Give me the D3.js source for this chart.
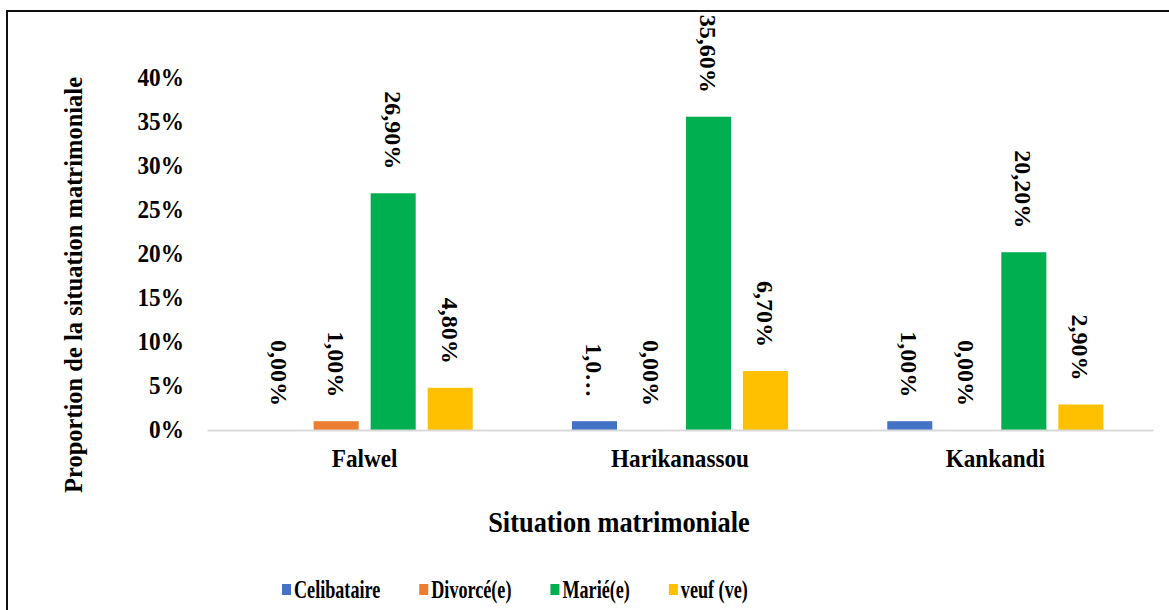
<!DOCTYPE html>
<html lang="fr">
<head>
<meta charset="UTF-8">
<title>Situation matrimoniale</title>
<style>
    body { margin: 0; padding: 0; background: #fff; }
    svg { display: block; }
</style>
</head>
<body>
<svg id="chart"></svg>
<script src="https://d3js.org/d3.v7.min.js"></script>
<script>
    // data
    var categories = ["Falwel", "Harikanassou", "Kankandi"];
    var seriesNames = ["Celibataire", "Divorcé(e)", "Marié(e)", "veuf (ve)"];
    var celibataire = [0.000, 0.010, 0.010];
    var divorce = [0.010, 0.000, 0.000];
    var marie = [0.269, 0.356, 0.202];
    var veuf = [0.048, 0.067, 0.029];
    // labels as printed (one is cut short in the original)
    var celibataireLabels = ["0,00%", "1,0…", "1,00%"];
    var divorceLabels = ["1,00%", "0,00%", "0,00%"];
    var marieLabels = ["26,90%", "35,60%", "20,20%"];
    var veufLabels = ["4,80%", "6,70%", "2,90%"];
    var yTicks = [0, 0.05, 0.10, 0.15, 0.20, 0.25, 0.30, 0.35, 0.40];

    var colors = ["#4472C4", "#ED7D31", "#00B050", "#FFC000"];
    var values = [celibataire, divorce, marie, veuf];
    var labels = [celibataireLabels, divorceLabels, marieLabels, veufLabels];
    var FONT = "'Liberation Serif', 'Times New Roman', serif";

    var data = [];
    categories.forEach(function (c, i) {
        seriesNames.forEach(function (s, j) {
            data.push({cat: c, serie: s, value: values[j][i], label: labels[j][i], color: colors[j]});
        });
    });

    var W = 1169, H = 610;
    var plotLeft = 207, plotRight = 1153, plotTop = 78, plotBottom = 430;

    var svg = d3.select("#chart").attr("width", W).attr("height", H);

    function serif(sel, size) {
        sel.style("font-family", FONT)
            .style("font-weight", "bold")
            .style("font-size", size + "px")
            .attr("fill", "#000");
    }

    // outer frame
    svg.append("rect")
        .attr("x", 7).attr("y", 11)
        .attr("width", 1200).attr("height", 700)
        .attr("fill", "none").attr("stroke", "#111").attr("stroke-width", 2);

    var x0 = d3.scaleBand().domain(categories).range([plotLeft, plotRight]).padding(0);
    var x1 = d3.scaleBand().domain(seriesNames).range([0, x0.bandwidth()])
        .paddingInner(0.21).paddingOuter(0.87);
    var y = d3.scaleLinear().domain([0, 0.40]).range([plotBottom, plotTop]);

    // y axis labels only
    var yAxis = svg.append("g")
        .attr("transform", "translate(" + plotLeft + ",0)")
        .call(d3.axisLeft(y).tickValues(yTicks).tickSize(0).tickPadding(23).tickFormat(d3.format(".0%")));
    yAxis.select(".domain").remove();
    yAxis.selectAll("text")
        .call(serif, 24.5)
        .attr("x", -23 / 0.95)
        .attr("transform", "scale(0.95,1)");

    // bars
    svg.append("g").selectAll("rect")
        .data(data)
        .enter()
        .append("rect")
        .attr("x", function (d) { return x0(d.cat) + x1(d.serie); })
        .attr("y", function (d) { return y(d.value); })
        .attr("width", x1.bandwidth())
        .attr("height", function (d) { return y(0) - y(d.value); })
        .attr("fill", function (d) { return d.color; });

    // x axis
    var xAxis = svg.append("g")
        .attr("transform", "translate(0," + plotBottom + ")")
        .call(d3.axisBottom(x0).tickSize(0).tickSizeOuter(0));
    xAxis.select(".domain").attr("stroke", "#d9d9d9").attr("stroke-width", 2);
    xAxis.selectAll("text")
        .call(serif, 25.5)
        .attr("y", 37).attr("dy", null)
        .attr("transform", "scale(0.91,1)");

    // rotated value labels
    svg.append("g").selectAll("text")
        .data(data)
        .enter()
        .append("text")
        .attr("transform", function (d) {
            var cx = x0(d.cat) + x1(d.serie) + x1.bandwidth() / 2;
            return "translate(" + cx + "," + (y(d.value) - 24) + ") rotate(90)";
        })
        .attr("text-anchor", "end")
        .attr("dy", "0.35em")
        .call(serif, 24)
        .text(function (d) { return d.label; });

    // axis titles
    svg.append("text")
        .attr("transform", "translate(82,285) rotate(-90)")
        .attr("text-anchor", "middle")
        .call(serif, 24.5)
        .text("Proportion de la situation matrimoniale");

    svg.append("text")
        .attr("transform", "translate(619,532) scale(0.91,1)")
        .attr("text-anchor", "middle")
        .call(serif, 29)
        .text("Situation matrimoniale");

    // legend
    var legend = svg.append("g");
    var lx = 282;
    seriesNames.forEach(function (s, j) {
        legend.append("rect")
            .attr("x", lx).attr("y", 584)
            .attr("width", 9).attr("height", 11)
            .attr("fill", colors[j]);
        var t = legend.append("text")
            .attr("transform", "translate(" + (lx + 12) + ",598) scale(0.74,1)")
            .call(serif, 24.5)
            .text(s);
        lx += 12 + t.node().getComputedTextLength() * 0.74 + 39;
    });
</script>
</body>
</html>
